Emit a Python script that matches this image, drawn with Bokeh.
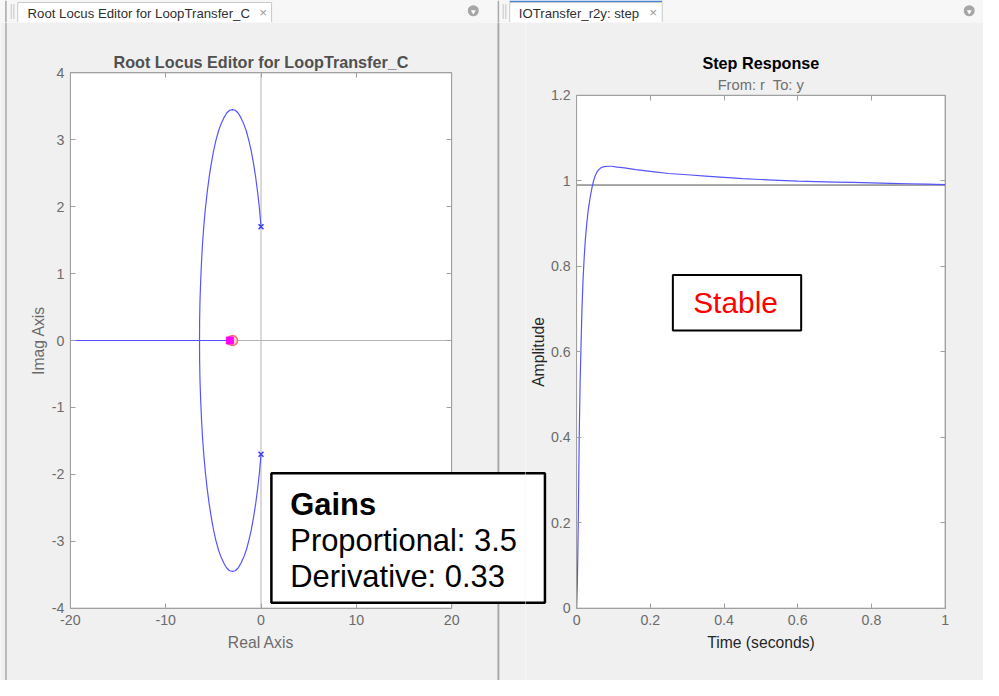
from bokeh.plotting import figure
from bokeh.layouts import column, row
from bokeh.models import Range1d, LinearAxis, FixedTicker, Label, BoxAnnotation
from bokeh.core.properties import value
from bokeh.embed import file_html
from bokeh.resources import INLINE

FONT = "Liberation Sans"

# ---------------- data: root locus ----------------
locus_upper_re = [0.00, -0.17, -0.36, -0.56, -0.78, -1.02, -1.28, -1.54, -1.82, -2.11, -2.40,
                  -2.70, -3.00, -3.30, -3.60, -3.89, -4.18, -4.46, -4.73, -4.98, -5.22, -5.44,
                  -5.64, -5.83, -5.99, -6.13, -6.24, -6.33, -6.40, -6.44, -6.45]
locus_upper_im = [1.70, 1.98, 2.22, 2.44, 2.64, 2.83, 2.99, 3.13, 3.24, 3.33, 3.40,
                  3.44, 3.45, 3.44, 3.40, 3.33, 3.24, 3.13, 2.99, 2.83, 2.64, 2.44,
                  2.22, 1.98, 1.73, 1.46, 1.18, 0.89, 0.60, 0.30, 0.00]
locus_lower_re = [0.00, -0.17, -0.36, -0.56, -0.78, -1.02, -1.28, -1.54, -1.82, -2.11, -2.40,
                  -2.70, -3.00, -3.30, -3.60, -3.89, -4.18, -4.46, -4.73, -4.98, -5.22, -5.44,
                  -5.64, -5.83, -5.99, -6.13, -6.24, -6.33, -6.40, -6.44, -6.45]
locus_lower_im = [-1.70, -1.98, -2.22, -2.44, -2.64, -2.83, -2.99, -3.13, -3.24, -3.33, -3.40,
                  -3.44, -3.45, -3.44, -3.40, -3.33, -3.24, -3.13, -2.99, -2.83, -2.64, -2.44,
                  -2.22, -1.98, -1.73, -1.46, -1.18, -0.89, -0.60, -0.30, 0.00]
real_branch_left_re = [-20.0, -6.45]
real_branch_right_re = [-6.45, -3.0]
real_branch_im = [0.0, 0.0]
open_poles_re = [0.0, 0.0]
open_poles_im = [1.70, -1.70]
zeros_re = [-2.99]
zeros_im = [0.0]
closed_poles_re = [-3.27]
closed_poles_im = [0.0]

rl_xrange = (-20, 20)
rl_yrange = (-4, 4)
rl_xticks = [-20, -10, 0, 10, 20]
rl_xlabels = ["-20", "-10", "0", "10", "20"]
rl_yticks = [-4, -3, -2, -1, 0, 1, 2, 3, 4]
rl_ylabels = ["-4", "-3", "-2", "-1", "0", "1", "2", "3", "4"]

gain_kp = 3.5
gain_kd = 0.33

# ---------------- data: step response ----------------
step_t = [0.0, 0.002, 0.0045, 0.007, 0.0095, 0.0115, 0.0145, 0.0175, 0.0205, 0.0235, 0.0275,
          0.032, 0.037, 0.042, 0.046, 0.05, 0.055, 0.06, 0.067, 0.075, 0.085, 0.095, 0.11,
          0.13, 0.16, 0.2, 0.25, 0.3, 0.35, 0.4, 0.45, 0.5, 0.55, 0.6, 0.65, 0.7, 0.75, 0.8,
          0.85, 0.9, 0.95, 1.0]
step_y = [0.0, 0.06, 0.2, 0.4, 0.53, 0.6, 0.7, 0.77, 0.82, 0.86, 0.9,
          0.935, 0.962, 0.985, 1.0, 1.011, 1.02, 1.026, 1.031, 1.033, 1.034, 1.034, 1.032,
          1.030, 1.026, 1.022, 1.017, 1.014, 1.011, 1.008, 1.005, 1.003, 1.001, 0.999, 0.998,
          0.997, 0.996, 0.995, 0.994, 0.993, 0.992, 0.991]
final_value = 0.99

st_xrange = (0, 1)
st_yrange = (0, 1.2)
st_xticks = [0, 0.2, 0.4, 0.6, 0.8, 1]
st_xlabels = ["0", "0.2", "0.4", "0.6", "0.8", "1"]
st_yticks = [0, 0.2, 0.4, 0.6, 0.8, 1, 1.2]
st_ylabels = ["0", "0.2", "0.4", "0.6", "0.8", "1", "1.2"]

# ---------------- layout ----------------
REF_W, REF_H = 999, 696          # reference pixel space used for placing chrome
TOTAL_W, TOTAL_H = 983, 680      # drawn size
SX, SY = TOTAL_W / REF_W, TOTAL_H / REF_H
STRIP_H = 22                     # drawn px
SPLIT = 525                      # drawn px where the right panel figure starts
L_BOX = (71, 458.5, 74, 622)     # plot boxes in reference px (l, r, t, b)
R_BOX = (585.5, 960, 97, 622)
FS = 0.98                        # font scale

PANEL = "#f0f0f0"
GRAY = "#a0a0a0"
TICK_TXT = "#6b6b6b"
BLUE = "#5555ff"
DIVIDER = "#a8a8a8"


def px(n):
    return f"{n * FS:.1f}px"


def mid(baseline, size):
    # vertical centre of a text line whose baseline sits at `baseline` (reference px)
    return baseline - 0.3465 * size


def converters(xr, yr, box):
    l, r, t, b = box

    def cx(ref):
        return xr[0] + (ref - l) * (xr[1] - xr[0]) / (r - l)

    def cy(ref):
        return yr[1] - (ref - t) * (yr[1] - yr[0]) / (b - t)
    return cx, cy


lx, ly = converters(rl_xrange, rl_yrange, L_BOX)
rx, ry = converters(st_xrange, st_yrange, R_BOX)


def base_fig(w, h, xr, yr):
    p = figure(width=w, height=h, x_range=Range1d(*xr), y_range=Range1d(*yr),
               output_backend="svg", toolbar_location=None, title=None,
               x_axis_type=None, y_axis_type=None, min_border=0)
    p.min_border_left = p.min_border_right = p.min_border_top = p.min_border_bottom = 0
    p.outline_line_color = None
    p.background_fill_color = PANEL
    p.border_fill_color = PANEL
    return p


def add_axes(p, xr, yr, xticks, xlabels, yticks, ylabels, xtitle, ytitle, title_color, ytitle_standoff):
    specs = [("below", yr[0], xr, xticks, xlabels, xtitle),
             ("left", xr[0], yr, yticks, ylabels, ytitle),
             ("above", yr[1], xr, xticks, None, None),
             ("right", xr[1], yr, yticks, None, None)]
    for side, loc, bnd, ticks, labels, title in specs:
        ax = LinearAxis(fixed_location=loc, bounds=bnd, ticker=FixedTicker(ticks=ticks))
        ax.axis_line_color = GRAY
        ax.major_tick_line_color = GRAY
        ax.major_tick_in = 5
        ax.major_tick_out = 0
        ax.minor_tick_line_color = None
        if labels is None:
            ax.major_label_text_color = None
        else:
            ax.major_label_overrides = dict(zip(ticks, labels))
            ax.major_label_text_font = FONT
            ax.major_label_text_font_size = px(14.5)
            ax.major_label_text_color = TICK_TXT
            ax.major_label_standoff = 7 if side == "below" else 6
            ax.axis_label = title
            ax.axis_label_text_font = FONT
            ax.axis_label_text_font_size = px(16)
            ax.axis_label_text_font_style = "normal"
            ax.axis_label_text_color = title_color
            ax.axis_label_standoff = 5 if side == "below" else ytitle_standoff
        p.add_layout(ax, side)


def gains_box(p, cx, cy):
    p.add_layout(BoxAnnotation(left=cx(275.3), right=cx(553.3), top=cy(484), bottom=cy(616.3),
                               fill_color="white", fill_alpha=1.0, line_color="black",
                               line_alpha=1.0, line_width=2.5))


# ---------------- tab strip (reference px as data units) ----------------
strip = base_fig(TOTAL_W, STRIP_H, (0, REF_W), (STRIP_H / SY, 0))
strip.quad(left=[0], right=[REF_W], top=[0], bottom=[22.5], fill_color="#f7f7f7", line_color=None)
strip.segment(x0=[0], x1=[REF_W], y0=[22.5], y1=[22.5], line_color="#c4c4c4", line_width=1)
strip.quad(left=[17.5, 517.5], right=[275.5, 672.5], top=[2, 2], bottom=[23, 23],
           fill_color="white", line_color="#c8c8c8", line_width=1)
strip.segment(x0=[517.5], x1=[672.5], y0=[0.8], y1=[0.8], line_color="#4a86d8", line_width=1.5)
strip.text(x=[27.5, 526.7], y=[mid(17.7, 13.5)] * 2,
           text=["Root Locus Editor for LoopTransfer_C", "IOTransfer_r2y: step"],
           text_font=value(FONT), text_font_size=px(13.5), text_color="#303030",
           text_baseline="middle", text_align="left")
strip.text(x=[267, 663.3], y=[12.5, 12.5], text=["×", "×"], text_font=value(FONT),
           text_font_size=px(14), text_color="#9a9a9a", text_align="center", text_baseline="middle")
strip.scatter(x=[480.5, 984.5], y=[10.5, 10.5], marker="circle", size=11,
              fill_color="#a6a6a6", line_color=None)
strip.scatter(x=[480.5, 984.5], y=[11.5, 11.5], marker="inverted_triangle", size=5,
              fill_color="white", line_color=None)
strip.segment(x0=[11, 13.5, 511, 513.5], x1=[11, 13.5, 511, 513.5], y0=[4, 4, 4, 4],
              y1=[19, 19, 19, 19], line_color="#b4b4b4", line_width=1.5, line_dash="1 1")
strip.segment(x0=[5.5, 506], x1=[5.5, 506], y0=[0, 0], y1=[23, 23], line_color=DIVIDER, line_width=1.5)

# ---------------- left: root locus ----------------
left = base_fig(SPLIT, TOTAL_H - STRIP_H,
                (lx(0), lx(SPLIT / SX)), (ly(REF_H), ly(STRIP_H / SY)))
left.quad(left=[lx(4.8), lx(505)], right=[lx(6.3), lx(507)], top=[ly(0), ly(0)],
          bottom=[ly(REF_H + 5), ly(REF_H + 5)], fill_color=DIVIDER, line_color=None)
left.quad(left=[rl_xrange[0]], right=[rl_xrange[1]], bottom=[rl_yrange[0]], top=[rl_yrange[1]],
          fill_color="white", line_color=GRAY, line_width=1)
left.segment(x0=[0, rl_xrange[0]], x1=[0, rl_xrange[1]], y0=[rl_yrange[0], 0], y1=[rl_yrange[1], 0],
             line_color="#b4b4b4", line_width=1)
add_axes(left, rl_xrange, rl_yrange, rl_xticks, rl_xlabels, rl_yticks, rl_ylabels,
         "Real Axis", "Imag Axis", TICK_TXT, 2)

left.line(locus_upper_re, locus_upper_im, line_color=BLUE, line_width=1.2)
left.line(locus_lower_re, locus_lower_im, line_color=BLUE, line_width=1.2)
left.line(real_branch_left_re, real_branch_im, line_color=BLUE, line_width=1.2)
left.line(real_branch_right_re, real_branch_im, line_color=BLUE, line_width=1.2)
left.scatter(open_poles_re, open_poles_im, marker="x", size=7, line_color="#3a3aff", line_width=1.5)
left.scatter(zeros_re, zeros_im, marker="circle", size=10, fill_color="#ffd0d0",
             line_color="#ff6a6a", line_width=1.5)
left.scatter(closed_poles_re, closed_poles_im, marker="square", size=7,
             fill_color="#ff00ff", line_color="#ff00ff")

left.add_layout(Label(x=sum(rl_xrange) / 2, y=ly(mid(69, 16.5)), text="Root Locus Editor for LoopTransfer_C",
                      text_font=FONT, text_font_size=px(16.5), text_font_style="bold",
                      text_color="#505050", text_align="center", text_baseline="middle"))

gains_box(left, lx, ly)
left.add_layout(Label(x=lx(294.5), y=ly(mid(526.7, 31.5)), text="Gains", text_font=FONT,
                      text_font_size=px(31.5), text_font_style="bold", text_color="black",
                      text_baseline="middle"))
left.add_layout(Label(x=lx(294.5), y=ly(mid(563.7, 31.5)), text=f"Proportional: {gain_kp}", text_font=FONT,
                      text_font_size=px(31.5), text_color="black", text_baseline="middle"))
left.add_layout(Label(x=lx(294.5), y=ly(mid(600.7, 31.5)), text=f"Derivative: {gain_kd}", text_font=FONT,
                      text_font_size=px(31.5), text_color="black", text_baseline="middle"))

# ---------------- right: step response ----------------
right = base_fig(TOTAL_W - SPLIT, TOTAL_H - STRIP_H,
                 (rx(SPLIT / SX), rx(REF_W)), (ry(REF_H), ry(STRIP_H / SY)))
right.quad(left=[st_xrange[0]], right=[st_xrange[1]], bottom=[st_yrange[0]], top=[st_yrange[1]],
           fill_color="white", line_color=GRAY, line_width=1)
add_axes(right, st_xrange, st_yrange, st_xticks, st_xlabels, st_yticks, st_ylabels,
         "Time (seconds)", "Amplitude", "#262626", 1)
right.segment(x0=[st_xrange[0]], x1=[st_xrange[1]], y0=[final_value], y1=[final_value],
              line_color="#4d4d4d", line_width=1)
right.line(step_t, step_y, line_color=BLUE, line_width=1.2)

right.add_layout(Label(x=sum(st_xrange) / 2, y=ry(mid(70, 16.5)), text="Step Response", text_font=FONT,
                       text_font_size=px(16.5), text_font_style="bold", text_color="black",
                       text_align="center", text_baseline="middle"))
right.add_layout(Label(x=sum(st_xrange) / 2, y=ry(mid(91.7, 15)), text="From: r\u00a0 To: y", text_font=FONT,
                       text_font_size=px(15), text_color="#707070",
                       text_align="center", text_baseline="middle"))

right.add_layout(BoxAnnotation(left=rx(683.3), right=rx(813.7), top=ry(281), bottom=ry(337.7),
                               fill_color="white", fill_alpha=1.0, line_color="black",
                               line_alpha=1.0, line_width=2))
right.add_layout(Label(x=rx(747), y=ry(mid(319.3, 30.5)), text="Stable", text_font=FONT,
                       text_font_size=px(30.5), text_color="#ff0000", text_align="center",
                       text_baseline="middle"))
gains_box(right, rx, ry)

layout = column(strip, row(left, right))
open("out.html", "w").write(file_html(layout, INLINE))
